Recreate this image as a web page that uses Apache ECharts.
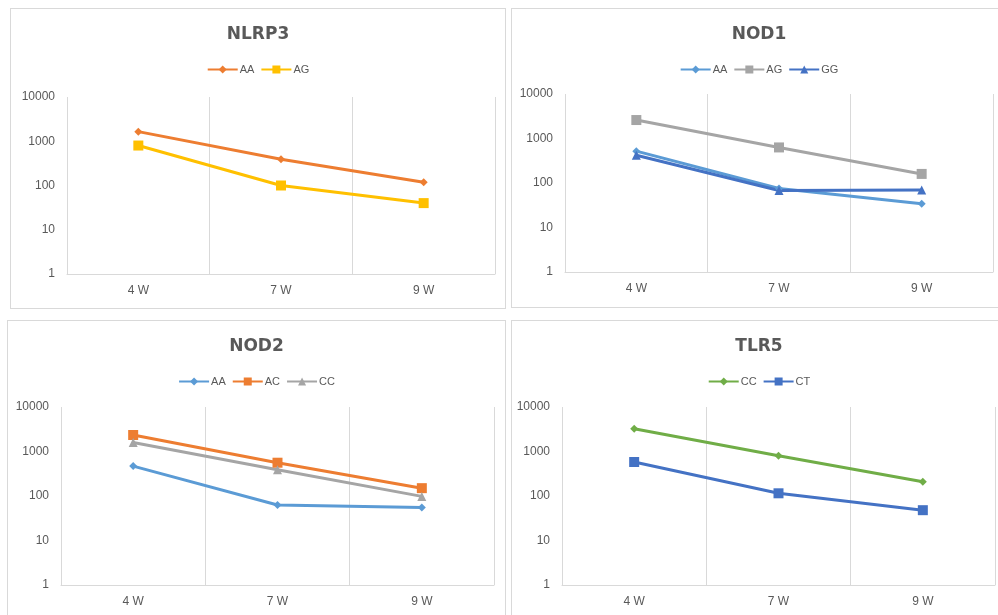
<!DOCTYPE html>
<html>
<head>
<meta charset="utf-8">
<script src="https://cdn.jsdelivr.net/npm/echarts@6/dist/echarts.min.js"></script>
<style>
  html, body { margin: 0; padding: 0; background: #ffffff; overflow: hidden; }
  body { width: 998px; height: 615px; position: relative; }
  .panel { position: absolute; border: 1px solid #d9d9d9; background: #fff; box-sizing: border-box; }
</style>
</head>
<body>
<div id="p1" class="panel" style="left:10px;top:8px;width:496px;height:301px;"></div>
<div id="p2" class="panel" style="left:511px;top:8px;width:496px;height:300px;"></div>
<div id="p3" class="panel" style="left:7px;top:320px;width:499px;height:302px;"></div>
<div id="p4" class="panel" style="left:511px;top:320px;width:496px;height:302px;"></div>
<script>
// Sampling weeks
var weeks = ['4 W', '7 W', '9 W'];

// NLRP3 genotypes
var nlrp3AA = [1650, 390, 118];
var nlrp3AG = [800, 100, 40];

// NOD1 genotypes
var nod1AA = [520, 75, 34];
var nod1AG = [2600, 630, 160];
var nod1GG = [420, 68, 70];

// NOD2 genotypes
var nod2AA = [470, 63, 55];
var nod2AC = [2350, 560, 150];
var nod2CC = [1600, 390, 98];

// TLR5 genotypes
var tlr5CC = [3250, 800, 210];
var tlr5CT = [580, 115, 48];

var C = {
  orange: '#ED7D31', gold: '#FFC000', lightBlue: '#5B9BD5',
  gray: '#A5A5A5', blue: '#4472C4', green: '#70AD47'
};
var TEXT = '#595959';
var GRID = '#d9d9d9';

var MARK = {
  diamond: { symbol: 'diamond', size: 8 },
  square: { symbol: 'rect', size: 10 },
  triangle: { symbol: 'triangle', size: 9 }
};

function lineSeries(name, data, color, mark) {
  return {
    name: name, type: 'line', data: data,
    symbol: MARK[mark].symbol, symbolSize: MARK[mark].size,
    showSymbol: true,
    lineStyle: { color: color, width: 3 },
    itemStyle: { color: color, borderWidth: 0 },
    emphasis: { disabled: true }
  };
}

function panel(id, title, grid, series) {
  var chart = echarts.init(document.getElementById(id), null, { renderer: 'canvas' });
  chart.setOption({
    animation: false,
    backgroundColor: '#ffffff',
    title: {
      text: title, left: 'center', top: 17, padding: 0,
      textStyle: { fontFamily: 'DejaVu Sans', fontWeight: 'bold', fontSize: 17, color: TEXT }
    },
    legend: {
      top: 55, left: 'center', padding: 0, itemGap: 6,
      itemWidth: 30, itemHeight: 10,
      textStyle: { fontFamily: 'Liberation Sans', fontSize: 11, color: TEXT, padding: [0, 0, 0, -3] },
      data: series.map(function (s) { return s.name; })
    },
    grid: grid,
    xAxis: {
      type: 'category', data: weeks, boundaryGap: true,
      axisLine: { show: true, lineStyle: { color: GRID, width: 1 } },
      axisTick: { show: false },
      splitLine: { show: true, lineStyle: { color: GRID, width: 1 } },
      axisLabel: { color: TEXT, fontFamily: 'Liberation Sans', fontSize: 12, margin: 11 }
    },
    yAxis: {
      type: 'log', logBase: 10, min: 1, max: 10000,
      axisLine: { show: false }, axisTick: { show: false },
      splitLine: { show: false },
      axisLabel: {
        color: TEXT, fontFamily: 'Liberation Sans', fontSize: 12, margin: 12,
        formatter: function (v) { return String(Math.round(v)); }
      }
    },
    series: series
  });
}

panel('p1', 'NLRP3', { left: 56, right: 10, top: 88, bottom: 34 }, [
  lineSeries('AA', nlrp3AA, C.orange, 'diamond'),
  lineSeries('AG', nlrp3AG, C.gold, 'square')
]);

panel('p2', 'NOD1', { left: 53, right: 13, top: 85, bottom: 35 }, [
  lineSeries('AA', nod1AA, C.lightBlue, 'diamond'),
  lineSeries('AG', nod1AG, C.gray, 'square'),
  lineSeries('GG', nod1GG, C.blue, 'triangle')
]);

panel('p3', 'NOD2', { left: 53, right: 11, top: 86, bottom: 36 }, [
  lineSeries('AA', nod2AA, C.lightBlue, 'diamond'),
  lineSeries('AC', nod2AC, C.orange, 'square'),
  lineSeries('CC', nod2CC, C.gray, 'triangle')
]);

panel('p4', 'TLR5', { left: 50, right: 11, top: 86, bottom: 36 }, [
  lineSeries('CC', tlr5CC, C.green, 'diamond'),
  lineSeries('CT', tlr5CT, C.blue, 'square')
]);
</script>
</body>
</html>
